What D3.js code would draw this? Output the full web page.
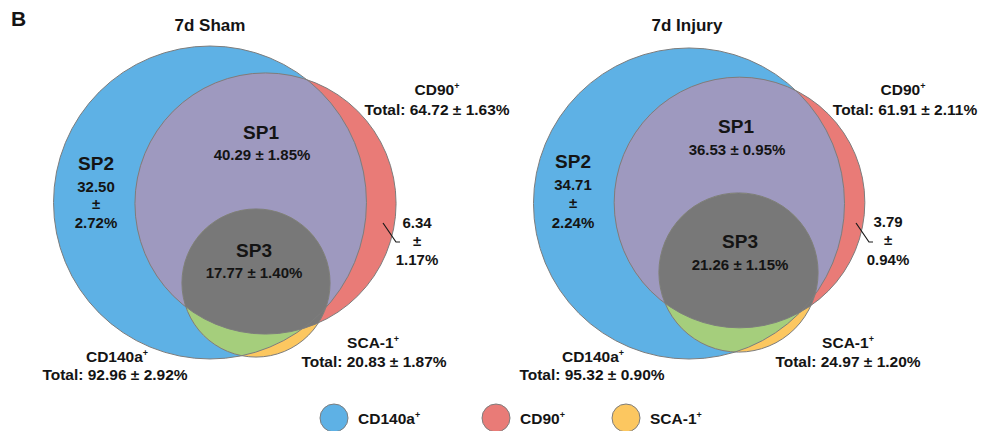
<!DOCTYPE html>
<html>
<head>
<meta charset="utf-8">
<script src="https://cdn.jsdelivr.net/npm/d3@7"></script>
<style>
  html, body { margin: 0; padding: 0; background: #fff; }
  svg { display: block; }
  text { font-family: "Liberation Sans", Arial, Helvetica, sans-serif; font-weight: bold; fill: #141414; }
</style>
</head>
<body>
<svg id="chart" width="982" height="431"></svg>
<script>
// ---------------- DATA ----------------
const panelTitles = ["7d Sham", "7d Injury"];
const setNames = ["CD140a", "CD90", "SCA-1"];          // each with a superscript "+"
const setTotals = [[92.96, 64.72, 20.83], [95.32, 61.91, 24.97]];
const setTotalErr = [[2.92, 1.63, 1.87], [0.90, 2.11, 1.20]];
const subpopNames = ["SP1", "SP2", "SP3"];
const subpopValues = [[40.29, 32.50, 17.77], [36.53, 34.71, 21.26]];
const subpopErr = [[1.85, 2.72, 1.40], [0.95, 2.24, 1.15]];
const cd90OnlyValues = [6.34, 3.79];
const cd90OnlyErr = [1.17, 0.94];
const panelLetter = "B";

// ---------------- STYLE / LAYOUT ----------------
const colors = {
  blue: "#5eb1e5", red: "#e97b77", yellow: "#fcc760",
  purple: "#9e99bf", green: "#a5ce7c", gray: "#787878",
  stroke: "#7d7d7d"
};
const setColors = [colors.blue, colors.red, colors.yellow];

const layout = [
  { origin: [210, 202.5], rMax: 162.3, off: [[0, 0], [55.5, 1], [46, 80.5]],
    title: [210, 31], cd90: [437, 95], cd90Tot: [437, 115],
    sp1: [261, 139], sp1v: [262, 160],
    sp2: [96, 170], sp2v: [[96, 192], [96, 209], [96, 228]],
    sp3: [254, 257], sp3v: [254, 278],
    only: [[417, 228], [417, 246], [417, 265]],
    leader: [[383, 223], [396, 242], [400, 242]],
    sca: [373, 348], scaTot: [374, 367],
    cd140: [117, 362], cd140Tot: [115, 380] },
  { origin: [689, 203.5], rMax: 159.3, off: [[0, 0], [50.5, -1], [49.5, 69]],
    title: [687, 31], cd90: [903, 95], cd90Tot: [905, 115],
    sp1: [736, 133], sp1v: [737, 155],
    sp2: [573, 168], sp2v: [[573, 190], [573, 208], [573, 228]],
    sp3: [740, 248], sp3v: [740, 270],
    only: [[888, 227], [888, 245], [888, 265]],
    leader: [[856, 223], [869, 242], [873, 242]],
    sca: [848, 348], scaTot: [848, 367],
    cd140: [593, 362], cd140Tot: [592, 380] }
];

const fmt = d3.format(".2f");
const pm = (v, e) => `${fmt(v)} ± ${fmt(e)}%`;

const svg = d3.select("#chart");
const defs = svg.append("defs");

svg.append("text").attr("x", 11).attr("y", 26).attr("font-size", 21).text(panelLetter);

function supLabel(g, x, y, name, size) {
  const t = g.append("text").attr("x", x).attr("y", y).attr("text-anchor", "middle").attr("font-size", size);
  t.append("tspan").text(name);
  t.append("tspan").attr("font-size", size * 0.58).attr("dy", -size * 0.36).text("+");
  return t;
}
function label(g, x, y, str, size, anchor = "middle") {
  return g.append("text").attr("x", x).attr("y", y).attr("text-anchor", anchor).attr("font-size", size).text(str);
}

panelTitles.forEach((title, p) => {
  const L = layout[p];
  const g = svg.append("g");
  const r = d3.scaleSqrt().domain([0, 100]).range([0, L.rMax]);
  const circles = setTotals[p].map((v, i) => ({
    cx: L.origin[0] + L.off[i][0], cy: L.origin[1] + L.off[i][1], r: r(v)
  }));

  circles.forEach((c, i) => {
    defs.append("clipPath").attr("id", `clip-${p}-${i}`)
      .append("circle").attr("cx", c.cx).attr("cy", c.cy).attr("r", c.r);
  });

  const circ = (sel, c) => sel.append("circle").attr("cx", c.cx).attr("cy", c.cy).attr("r", c.r);

  circ(g, circles[0]).attr("fill", colors.blue);
  circ(g, circles[1]).attr("fill", colors.red);
  circ(g.append("g").attr("clip-path", `url(#clip-${p}-0)`), circles[1]).attr("fill", colors.purple);
  circ(g, circles[2]).attr("fill", colors.yellow);
  circ(g.append("g").attr("clip-path", `url(#clip-${p}-0)`), circles[2]).attr("fill", colors.green);
  circ(g.append("g").attr("clip-path", `url(#clip-${p}-1)`), circles[2]).attr("fill", colors.gray);

  circles.forEach(c => circ(g, c).attr("fill", "none").attr("stroke", colors.stroke).attr("stroke-width", 1));

  label(g, L.title[0], L.title[1], title, 17);

  supLabel(g, L.cd90[0], L.cd90[1], setNames[1], 15.5);
  label(g, L.cd90Tot[0], L.cd90Tot[1], "Total: " + pm(setTotals[p][1], setTotalErr[p][1]), 15.5);

  supLabel(g, L.sca[0], L.sca[1], setNames[2], 15.5);
  label(g, L.scaTot[0], L.scaTot[1], "Total: " + pm(setTotals[p][2], setTotalErr[p][2]), 15.5);

  supLabel(g, L.cd140[0], L.cd140[1], setNames[0], 15.5);
  label(g, L.cd140Tot[0], L.cd140Tot[1], "Total: " + pm(setTotals[p][0], setTotalErr[p][0]), 15.5);

  label(g, L.sp1[0], L.sp1[1], subpopNames[0], 19);
  label(g, L.sp1v[0], L.sp1v[1], pm(subpopValues[p][0], subpopErr[p][0]), 15);

  label(g, L.sp2[0], L.sp2[1], subpopNames[1], 19);
  label(g, L.sp2v[0][0], L.sp2v[0][1], fmt(subpopValues[p][1]), 15);
  label(g, L.sp2v[1][0], L.sp2v[1][1], "±", 15);
  label(g, L.sp2v[2][0], L.sp2v[2][1], fmt(subpopErr[p][1]) + "%", 15);

  label(g, L.sp3[0], L.sp3[1], subpopNames[2], 19);
  label(g, L.sp3v[0], L.sp3v[1], pm(subpopValues[p][2], subpopErr[p][2]), 15);

  label(g, L.only[0][0], L.only[0][1], fmt(cd90OnlyValues[p]), 15);
  label(g, L.only[1][0], L.only[1][1], "±", 15);
  label(g, L.only[2][0], L.only[2][1], fmt(cd90OnlyErr[p]) + "%", 15);

  g.append("path").attr("d", d3.line()(L.leader))
    .attr("fill", "none").attr("stroke", "#1a1a1a").attr("stroke-width", 1.2);
});

// legend
const legendPos = [334, 496, 626];
setNames.forEach((name, i) => {
  const x = legendPos[i];
  svg.append("circle").attr("cx", x).attr("cy", 418).attr("r", 14)
    .attr("fill", setColors[i]).attr("stroke", colors.stroke).attr("stroke-width", 1);
  const t = svg.append("text").attr("x", x + 24).attr("y", 423.5).attr("font-size", 15.5);
  t.append("tspan").text(name);
  t.append("tspan").attr("font-size", 9).attr("dy", -5.5).text("+");
});
</script>
</body>
</html>
